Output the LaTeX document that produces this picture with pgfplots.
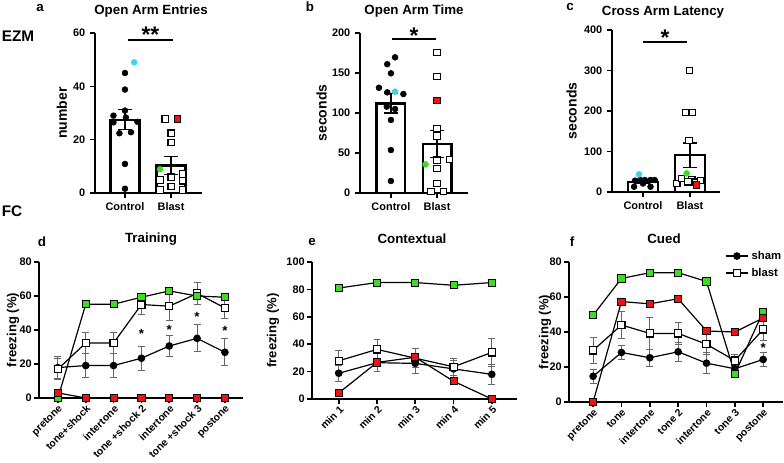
\documentclass[border=0pt]{standalone}
\usepackage{fontspec}
\setmainfont{Liberation Sans}
\usepackage{pgfplots}
\pgfplotsset{compat=1.18}
\definecolor{mycyan}{RGB}{60,210,235}
\definecolor{mygreen}{RGB}{60,220,30}
\definecolor{myred}{RGB}{235,20,20}
\pgfplotsset{
  panel/.style={scale only axis, axis x line*=bottom, axis y line*=left,
    axis line style={line width=1.4pt}, tick style={line width=1.2pt, black},
    major tick length=3.75pt, tick align=outside,
    ticklabel style={font=\bfseries\fontsize{8.2}{9.5}\selectfont},
    label style={font=\bfseries\fontsize{10.5}{12}\selectfont},
    /pgf/number format/assume math mode=true, clip=false, ymin=0,
    anchor=south west},
  barpanel/.style={panel, xtick={0,1}, xticklabels={Control,Blast}},
  linepanel/.style={panel, xtick=data, ylabel={freezing (\%)},
    label style={font=\bfseries\fontsize{9.8}{11}\selectfont},
    yticklabel style={inner sep=1.5pt},
    xticklabel style={rotate=45, anchor=north east, inner sep=0.5pt,
      font=\bfseries\fontsize{7.8}{9}\selectfont}},
  bars/.style={ybar, fill=white, draw=black, line width=1.7pt,
    error bars/y dir=both, error bars/y explicit,
    error bars/error bar style={line width=1pt, black},
    error bars/error mark options={rotate=90, mark size=5pt, line width=1pt}},
  dots/.style={only marks, mark=*, mark size=2.2pt, black},
  cdots/.style={only marks, mark=*, mark size=2.2pt, draw=mycyan, fill=mycyan},
  gdots/.style={only marks, mark=*, mark size=2.2pt, draw=mygreen, fill=mygreen},
  osq/.style={only marks, mark=square*, mark size=2.4pt, mark options={fill=white, draw=black, line width=0.9pt}},
  rsq/.style={only marks, mark=square*, mark size=2.4pt, mark options={fill=myred, draw=black, line width=0.6pt}},
  sigbar/.style={black, line width=1.4pt, mark=none},
  errs/.style={error bars/y dir=both, error bars/y explicit,
    error bars/error bar style={line width=0.7pt, gray!80!black},
    error bars/error mark options={rotate=90, mark size=2.6pt, line width=0.7pt, gray!80!black}},
  shamline/.style={black, line width=0.9pt, mark=*, mark size=2.4pt, errs},
  blastline/.style={black, line width=0.9pt, mark=square*, mark size=2.7pt,
    mark options={fill=white, draw=black}, errs},
  greenline/.style={black, line width=0.9pt, mark=square*, mark size=2.7pt,
    mark options={fill=mygreen, draw=black, line width=0.6pt}},
  redline/.style={black, line width=0.9pt, mark=square*, mark size=2.7pt,
    mark options={fill=myred, draw=black, line width=0.6pt}},
}
\begin{document}
\begin{tikzpicture}
\useasboundingbox (0,0) rectangle (588pt,346.5pt);
% ---------- a ----------
\begin{axis}[barpanel, at={(71.25pt,201.75pt)}, width=80.25pt, height=120pt,
  xmin=-0.65, xmax=1.67, ymax=60, ytick={0,20,40,60}, ylabel={number},
  ylabel style={at={(axis description cs:-0.31,0.5)}, anchor=center}]
\addplot[bars, bar width=0.63] coordinates {(0,27.5) +- (0,3.8) (1,10.3) +- (0,3.4)};
\addplot[dots] coordinates {(0,45) (0,38.8) (0,30.9) (-0.25,29) (0.02,28.3) (-0.25,26.5) (0.27,26.7) (-0.12,22.4) (0.13,22.8) (0,10.9) (0,1.6)};
\addplot[cdots] coordinates {(0.2,49)};
\addplot[osq] coordinates {(0.87,27.75) (1,22.4) (1,19) (0.76,4.9) (0.76,1.1) (1,5.9) (1,2.4) (1.25,7.1) (1.25,4.6) (1.25,1.1)};
\addplot[gdots] coordinates {(0.76,8.9)};
\addplot[rsq] coordinates {(1.14,27.75)};
\addplot[sigbar] coordinates {(0.07,57.5) (1.04,57.5)};
\node[font=\bfseries\fontsize{17}{17}\selectfont, anchor=south, inner sep=0pt] at (axis cs:0.55,56.5) {**};
\end{axis}
% ---------- b ----------
\begin{axis}[barpanel, at={(270pt,201.75pt)}, width=81pt, height=120pt,
  xmin=-0.67, xmax=1.67, ymax=200, ytick={0,50,100,150,200}, ylabel={seconds},
  ylabel style={at={(axis description cs:-0.355,0.5)}, anchor=center}]
\addplot[bars, bar width=0.62] coordinates {(0,112) +- (0,12) (1,61) +- (0,17)};
\addplot[dots] coordinates {(0.09,169.6) (-0.08,161) (0,149.6) (-0.26,131.6) (-0.08,125.8) (0.27,123.7) (-0.09,108) (0.09,105) (0,91.3) (0,53.7) (0,15)};
\addplot[cdots] coordinates {(0.09,126.7)};
\addplot[osq] coordinates {(1,175.8) (1,145.4) (1,80.8) (1,71.3) (1.27,42) (1,41) (1,30.8) (1,12) (0.87,1.7) (1.14,1.7)};
\addplot[gdots] coordinates {(0.75,35.8)};
\addplot[rsq] coordinates {(1,116)};
\addplot[sigbar] coordinates {(0.02,192) (0.98,192)};
\node[font=\bfseries\fontsize{17}{17}\selectfont, anchor=south, inner sep=0pt] at (axis cs:0.5,187) {*};
\end{axis}
% ---------- c ----------
\begin{axis}[barpanel, at={(459pt,202.5pt)}, width=81pt, height=121.5pt,
  xmin=-0.66, xmax=1.64, ymax=400, ytick={0,100,200,300,400}, ylabel={seconds},
  ylabel style={at={(axis description cs:-0.373,0.5)}, anchor=center}]
\addplot[bars, bar width=0.64] coordinates {(0,24) +- (0,3) (1,91) +- (0,30)};
\addplot[dots] coordinates {(-0.17,28) (-0.06,29.6) (0.04,29.6) (0.16,29.6) (0.25,29.6) (-0.19,13) (0.16,13) (0,21)};
\addplot[cdots] coordinates {(-0.085,43.7)};
\addplot[osq] coordinates {(0.99,300) (0.91,196) (1.05,196) (0.98,126.7) (0.72,21.4) (0.82,33.8) (1.04,29.6) (1.11,24) (1.23,28) (0.96,25.4)};
\addplot[gdots] coordinates {(0.93,46)};
\addplot[rsq] coordinates {(1.14,17.3)};
\addplot[sigbar] coordinates {(0,371) (0.94,371)};
\node[font=\bfseries\fontsize{17}{17}\selectfont, anchor=south, inner sep=0pt] at (axis cs:0.47,362) {*};
\end{axis}
% ---------- d ----------
\begin{axis}[linepanel, at={(29.25pt,48pt)}, width=153pt, height=102pt,
  xmin=-0.68, xmax=6.65, ymax=80, ytick={0,20,40,60,80},
  ylabel style={at={(axis description cs:-0.127,0.5)}, anchor=center},
  xticklabels={pretone,{tone+shock},intertone,{tone +shock 2},intertone,{tone +shock 3},postone}]
\addplot[shamline] coordinates {(0,17.9) +- (0,6.5) (1,19.1) +- (0,7) (2,19.1) +- (0,7) (3,23.4) +- (0,7) (4,30.6) +- (0,6.3) (5,35.1) +- (0,8) (6,26.9) +- (0,8)};
\addplot[blastline] coordinates {(0,17) +- (0,6) (1,32.4) +- (0,6) (2,32.4) +- (0,6) (3,55) +- (0,6) (4,54) +- (0,8.6) (5,61.5) +- (0,6.5) (6,53) +- (0,6)};
\addplot[greenline] coordinates {(0,0) (1,55.2) (2,55.2) (3,59.3) (4,63) (5,60) (6,59.3)};
\addplot[redline] coordinates {(0,3) (1,0) (2,0) (3,0) (4,0) (5,0) (6,0)};
\node[font=\bfseries\fontsize{10}{10}\selectfont] at (axis cs:3,37.5) {*};
\node[font=\bfseries\fontsize{10}{10}\selectfont] at (axis cs:4,40) {*};
\node[font=\bfseries\fontsize{10}{10}\selectfont] at (axis cs:5,47.6) {*};
\node[font=\bfseries\fontsize{10}{10}\selectfont] at (axis cs:6,39.6) {*};
\end{axis}
% ---------- e ----------
\begin{axis}[linepanel, at={(234pt,47.25pt)}, width=153.75pt, height=102.75pt,
  xmin=-0.7, xmax=4.66, ymax=100, ytick={0,20,40,60,80,100},
  ylabel style={at={(axis description cs:-0.19,0.5)}, anchor=center},
  xticklabels={min 1,min 2,min 3,min 4,min 5}]
\addplot[shamline] coordinates {(0,18.8) +- (0,6) (1,26.5) +- (0,6.5) (2,26) +- (0,7) (3,22) +- (0,6) (4,18) +- (0,7.5)};
\addplot[blastline] coordinates {(0,27.9) +- (0,7.5) (1,36.2) +- (0,7.5) (2,29.8) +- (0,7) (3,23.5) +- (0,6) (4,34) +- (0,10)};
\addplot[greenline] coordinates {(0,81) (1,85) (2,85) (3,83) (4,85)};
\addplot[redline] coordinates {(0,4.4) (1,26.7) (2,30.5) (3,13) (4,0)};
\end{axis}
% ---------- f ----------
\begin{axis}[linepanel, at={(426.75pt,45pt)}, width=160.5pt, height=105pt,
  xmin=-0.85, xmax=6.7, ymax=80, ytick={0,20,40,60,80},
  ylabel style={at={(axis description cs:-0.112,0.5)}, anchor=center},
  xticklabels={pretone,tone,intertone,tone 2,intertone,tone 3,postone},
  legend style={draw=none, fill=none, at={(1.005,1.1)}, anchor=north east,
    font=\bfseries\fontsize{8.5}{10}\selectfont, row sep=1pt, inner sep=0pt},
  legend cell align=left]
\addplot[shamline] coordinates {(0,14.7) +- (0,4) (1,28.3) +- (0,4) (2,25.3) +- (0,5) (3,28.7) +- (0,5.5) (4,22.2) +- (0,6) (5,19) +- (0,2) (6,24.3) +- (0,4)};
\addlegendentry{sham}
\addplot[blastline] coordinates {(0,29.5) +- (0,7.5) (1,44) +- (0,7.5) (2,39.2) +- (0,9) (3,39.2) +- (0,6.5) (4,33) +- (0,6) (5,23.7) +- (0,3.5) (6,41.5) +- (0,6.5)};
\addlegendentry{blast}
\addplot[greenline, forget plot] coordinates {(0,49.6) (1,70.6) (2,73.9) (3,73.9) (4,68.9) (5,16.1) (6,51.7)};
\addplot[redline, forget plot] coordinates {(0,0) (1,57.4) (2,56.1) (3,59) (4,40.6) (5,40) (6,48)};
\node[font=\bfseries\fontsize{10}{10}\selectfont] at (axis cs:6,30.8) {*};
\end{axis}
% ---------- text ----------
\begin{scope}[every node/.style={font=\bfseries\fontsize{10}{12}\selectfont}]
\node at (30pt,340.5pt) {a};
\node at (113.25pt,338.25pt) {Open Arm Entries};
\node at (232.5pt,341.25pt) {b};
\node at (310.5pt,338.25pt) {Open Arm Time};
\node at (427.5pt,341.25pt) {c};
\node at (497.25pt,337.5pt) {Cross Arm Latency};
\node at (31.5pt,165pt) {d};
\node at (113.25pt,167.25pt) {Training};
\node at (234pt,165pt) {e};
\node at (309pt,167.25pt) {Contextual};
\node at (429pt,165pt) {f};
\node at (498pt,167.25pt) {Cued};
\node[font=\bfseries\fontsize{11.5}{13}\selectfont] at (13.5pt,319.5pt) {EZM};
\node[font=\bfseries\fontsize{11.5}{13}\selectfont] at (9pt,188.25pt) {FC};
\end{scope}
\end{tikzpicture}
\end{document}
